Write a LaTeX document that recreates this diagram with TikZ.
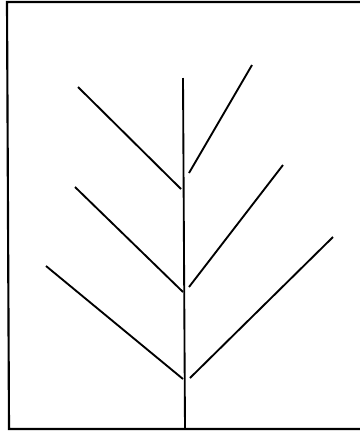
\documentclass[tikz,border=0pt]{standalone}
\begin{document}
\begin{tikzpicture}[x=0.75pt,y=-0.75pt,
  frameline/.style={line width=1.6pt},
  stemline/.style={line width=1.4pt},
  branchline/.style={line width=1.4pt}]
\useasboundingbox (0,0) rectangle (360,436);
\fill[white] (0,0) rectangle (360,436);
% frame (no right side)
\draw[frameline] (360,2) -- (7,2) -- (9,429) -- (360,429);
% stem
\coordinate (stemtop) at (183,78);
\coordinate (stembot) at (185,429);
\draw[stemline] (stemtop) -- (stembot);
% left branches
\coordinate (l1a) at (78,87);  \coordinate (l1b) at (181,189);
\coordinate (l2a) at (75,187); \coordinate (l2b) at (183,292);
\coordinate (l3a) at (46,266); \coordinate (l3b) at (183,379);
\draw[branchline] (l1a) -- (l1b);
\draw[branchline] (l2a) -- (l2b);
\draw[branchline] (l3a) -- (l3b);
% right branches
\coordinate (r1a) at (189,173); \coordinate (r1b) at (252,65);
\coordinate (r2a) at (189,287); \coordinate (r2b) at (283,165);
\coordinate (r3a) at (190,378); \coordinate (r3b) at (333,237);
\draw[branchline] (r1a) -- (r1b);
\draw[branchline] (r2a) -- (r2b);
\draw[branchline] (r3a) -- (r3b);
\end{tikzpicture}
\end{document}
